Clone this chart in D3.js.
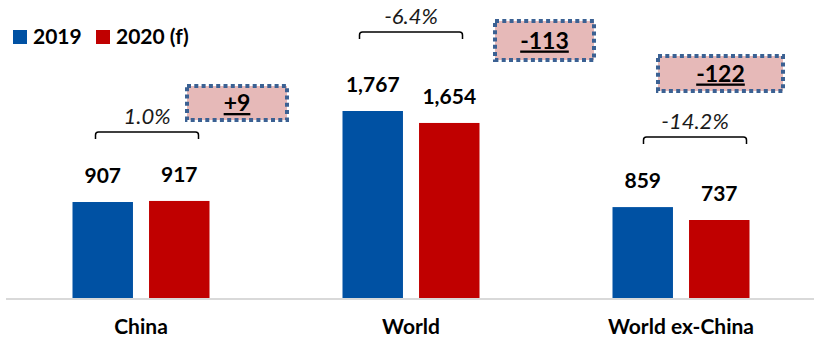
<!DOCTYPE html>
<html>
<head>
<meta charset="utf-8">
<script src="https://cdn.jsdelivr.net/npm/d3@7"></script>
<style>
  html, body { margin: 0; padding: 0; background: #fff; }
  svg { display: block; font-family: Lato, "Open Sans", sans-serif; }
</style>
</head>
<body>
<svg id="chart" width="814" height="339"></svg>
<script>
// Data
const categories = ["China", "World", "World ex-China"];
const series = ["2019", "2020 (f)"];
const values2019 = [907, 1767, 859];
const values2020 = [917, 1654, 737];
const pctLabels = ["1.0%", "-6.4%", "-14.2%"];
const changeLabels = ["+9", "-113", "-122"];

const colors = { "2019": "#0051A3", "2020 (f)": "#C00000" };

// Annotation layout (bracket and callout box placement per category)
const bracketLayout = [
  { dx: 6, y: 132 },
  { dx: 0, y: 32 },
  { dx: 14, y: 137 }
];
const boxLayout = [
  { x: 185, y: 84, w: 104, h: 38 },
  { x: 493, y: 19, w: 103, h: 43 },
  { x: 656, y: 54, w: 129, h: 39 }
];

const svg = d3.select("#chart");
const baseY = 298;

const x = d3.scaleBand().domain(categories).range([6, 816]).paddingInner(0);
const xInner = d3.scaleBand().domain(series).range([-68.5, 68.5]).paddingInner(0.21);
const y = d3.scaleLinear().domain([0, 2000]).range([baseY, baseY - 2000 * 0.10583]);

const rows = categories.map((c, i) => ({
  category: c,
  values: [
    { key: "2019", value: values2019[i] },
    { key: "2020 (f)", value: values2020[i] }
  ]
}));

// Bars and value labels
const groups = svg.selectAll("g.cat")
  .data(rows)
  .join("g")
  .attr("class", "cat")
  .attr("transform", d => `translate(${x(d.category) + x.bandwidth() / 2},0)`);

groups.selectAll("rect")
  .data(d => d.values)
  .join("rect")
  .attr("x", d => xInner(d.key))
  .attr("width", xInner.bandwidth())
  .attr("y", d => y(d.value))
  .attr("height", d => y(0) - y(d.value))
  .attr("fill", d => colors[d.key]);

groups.selectAll("text.val")
  .data(d => d.values)
  .join("text")
  .attr("class", "val")
  .attr("x", d => xInner(d.key) + xInner.bandwidth() / 2)
  .attr("y", d => y(d.value) - 19)
  .attr("text-anchor", "middle")
  .attr("font-size", 21)
  .attr("font-weight", 700)
  .attr("fill", "#000")
  .text(d => d3.format(",")(d.value));

// Baseline
svg.append("line")
  .attr("x1", 6).attr("x2", 814)
  .attr("y1", baseY + 1).attr("y2", baseY + 1)
  .attr("stroke", "#D9D9D9")
  .attr("stroke-width", 2);

// Category axis labels
const xAxis = d3.axisBottom(x).tickSize(0).tickPadding(0);
const axisG = svg.append("g")
  .attr("transform", `translate(0,${baseY})`)
  .call(xAxis);
axisG.select(".domain").remove();
axisG.selectAll("text")
  .attr("y", 36)
  .attr("dy", 0)
  .attr("font-family", "Lato, 'Open Sans', sans-serif")
  .attr("font-size", 21)
  .attr("font-weight", 700)
  .attr("fill", "#000");

// Percentage brackets
const bw = 103;
categories.forEach((c, i) => {
  const cx = x(c) + x.bandwidth() / 2 + bracketLayout[i].dx;
  const by = bracketLayout[i].y;
  const x0 = cx - bw / 2, x1 = cx + bw / 2;
  const r = 3;
  svg.append("path")
    .attr("d", `M${x0},${by + 7} L${x0},${by + r} Q${x0},${by} ${x0 + r},${by} L${x1 - r},${by} Q${x1},${by} ${x1},${by + r} L${x1},${by + 7}`)
    .attr("fill", "none")
    .attr("stroke", "#000")
    .attr("stroke-width", 1.5);
  svg.append("text")
    .attr("x", cx)
    .attr("y", by - 8)
    .attr("text-anchor", "middle")
    .attr("font-size", 22)
    .attr("font-style", "italic")
    .attr("fill", "#1a1a1a")
    .text(pctLabels[i]);
});

// Change callout boxes
changeLabels.forEach((lab, i) => {
  const b = boxLayout[i];
  svg.append("rect")
    .attr("x", b.x + 2).attr("y", b.y + 2)
    .attr("width", b.w - 4).attr("height", b.h - 4)
    .attr("fill", "#E6B9B8")
    .attr("stroke", "#3B6193")
    .attr("stroke-width", 4)
    .attr("stroke-dasharray", "4,3.3");
  svg.append("text")
    .attr("x", b.x + b.w / 2)
    .attr("y", b.y + b.h / 2 + 8)
    .attr("text-anchor", "middle")
    .attr("font-size", 23)
    .attr("font-weight", 700)
    .attr("text-decoration", "underline")
    .attr("fill", "#000")
    .text(lab);
});

// Legend
const legend = svg.append("g").attr("transform", "translate(13,30)");
const legendX = [0, 83];
series.forEach((s, i) => {
  const g = legend.append("g").attr("transform", `translate(${legendX[i]},0)`);
  g.append("rect").attr("width", 14).attr("height", 14).attr("fill", colors[s]);
  g.append("text")
    .attr("x", 20).attr("y", 14)
    .attr("font-size", 21)
    .attr("font-weight", 700)
    .attr("fill", "#000")
    .text(s);
});
</script>
</body>
</html>
